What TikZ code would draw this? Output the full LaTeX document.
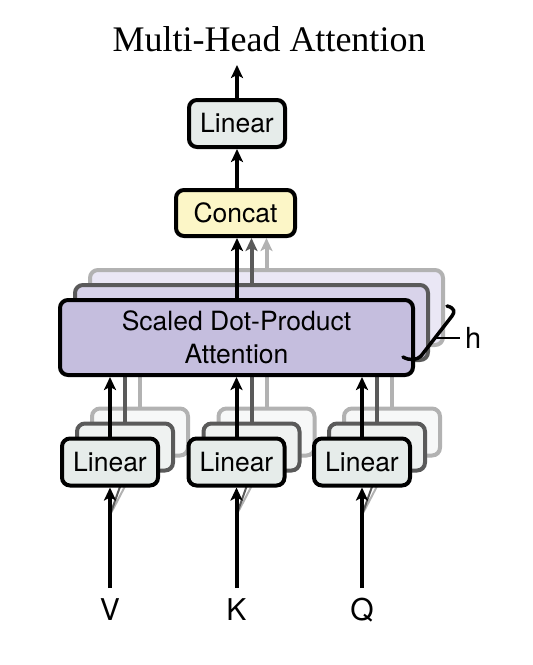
\documentclass[tikz,border=0pt]{standalone}
\usepackage{fontspec}
\setmainfont{Liberation Serif}
\newfontfamily\hv{TeX Gyre Heros}
\usetikzlibrary{arrows.meta,shadows}
\definecolor{linA}{RGB}{230,236,234}
\definecolor{linB}{RGB}{239,242,241}
\definecolor{linC}{RGB}{247,248,248}
\definecolor{catA}{RGB}{252,246,199}
\definecolor{sdpA}{RGB}{197,190,222}
\definecolor{sdpB}{RGB}{216,211,234}
\definecolor{sdpC}{RGB}{234,231,245}
\definecolor{midgray}{RGB}{90,90,90}
\definecolor{backgray}{RGB}{178,178,178}
\pgfdeclarelayer{lz}
\pgfdeclarelayer{ly}
\pgfdeclarelayer{lx}
\pgfdeclarelayer{lw}
\pgfsetlayers{lz,ly,lx,lw,main}
\begin{document}
\begin{tikzpicture}[x=1pt,y=-1pt,
  box/.style={rounded corners=8pt, line width=4pt, inner sep=0pt, align=center,
              font=\hv\fontsize{26.5}{33}\selectfont,
              drop shadow={shadow xshift=1.5pt, shadow yshift=-1.5pt, opacity=0.25}},
  frontbox/.style={box, draw=black},
  midbox/.style={box, draw=midgray},
  backbox/.style={box, draw=backgray},
  linsize/.style={minimum width=96pt, minimum height=47pt},
  sdpsize/.style={minimum width=353pt, minimum height=75pt},
  arr/.style={line width=4pt, -{Stealth[length=13pt,width=12pt,inset=3pt]}},
  midline/.style={line width=4pt, draw=midgray},
  backline/.style={line width=4pt, draw=backgray},
  midarr/.style={arr, draw=midgray, fill=midgray},
  backarr/.style={arr, draw=backgray, fill=backgray},
  thinmid/.style={line width=2pt, draw=midgray},
  thinback/.style={line width=2pt, draw=backgray},
  lab/.style={font=\hv\fontsize{30}{36}\selectfont, anchor=base, inner sep=0pt,
              outer sep=10pt, text height=22pt, text depth=0pt}
]
\useasboundingbox (0,0) rectangle (533,665);

% title
\node[font=\fontsize{36}{40}\selectfont, anchor=base, inner sep=0pt] (title) at (269,51) {Multi-Head Attention};

% ---------- Scaled Dot-Product Attention stack ----------
\begin{pgfonlayer}{lz}
\node[backbox, fill=sdpC, sdpsize] (s3) at (266.5,307.5) {};
\end{pgfonlayer}
\begin{pgfonlayer}{lx}
\node[midbox, fill=sdpB, sdpsize] (s2) at (251.5,322.5) {};
\end{pgfonlayer}
\node[frontbox, fill=sdpA, sdpsize] (s1) at (236.5,337.5) {Scaled Dot-Product\\Attention};

% ---------- Concat and output Linear ----------
\node[frontbox, fill=catA, minimum width=119pt, minimum height=46pt] (concat) at (235.5,213) {Concat};
\node[frontbox, fill=linA, linsize] (lout) at (237,123.5) {Linear};
\coordinate (out) at (237,65);

\begin{pgfonlayer}{ly}
\draw[backarr] (s3.north) -- (s3.north |- concat.south);
\end{pgfonlayer}
\begin{pgfonlayer}{lw}
\draw[midarr] (s2.north) -- (s2.north |- concat.south);
\end{pgfonlayer}
\draw[arr] (s1.north -| 237,0) -- (concat.south -| 237,0);
\draw[arr] (concat.north -| 237,0) -- (lout.south);
\draw[arr] (lout.north) -- (out);

% ---------- input Linear stacks ----------
% column V
\begin{pgfonlayer}{lz}
\node[backbox, fill=linC, linsize] (va3) at (140,432) {};
\end{pgfonlayer}
\begin{pgfonlayer}{lx}
\node[midbox, fill=linB, linsize] (va2) at (125,447) {};
\end{pgfonlayer}
\node[frontbox, fill=linA, linsize] (va1) at (110,462) {Linear};
% column K
\begin{pgfonlayer}{lz}
\node[backbox, fill=linC, linsize] (ka3) at (266.5,432) {};
\end{pgfonlayer}
\begin{pgfonlayer}{lx}
\node[midbox, fill=linB, linsize] (ka2) at (251.5,447) {};
\end{pgfonlayer}
\node[frontbox, fill=linA, linsize] (ka1) at (236.5,462) {Linear};
% column Q
\begin{pgfonlayer}{lz}
\node[backbox, fill=linC, linsize] (qa3) at (392,432) {};
\end{pgfonlayer}
\begin{pgfonlayer}{lx}
\node[midbox, fill=linB, linsize] (qa2) at (377,447) {};
\end{pgfonlayer}
\node[frontbox, fill=linA, linsize] (qa1) at (362,462) {Linear};

% connections from the Linear layers to the attention layers
\begin{pgfonlayer}{ly}
\draw[backline] (va3.north) -- (va3.north |- s3.south);
\draw[backline] (ka3.north) -- (ka3.north |- s3.south);
\draw[backline] (qa3.north) -- (qa3.north |- s3.south);
\end{pgfonlayer}
\begin{pgfonlayer}{lw}
\draw[midline] (va2.north) -- (va2.north |- s2.south);
\draw[midline] (ka2.north) -- (ka2.north |- s2.south);
\draw[midline] (qa2.north) -- (qa2.north |- s2.south);
\end{pgfonlayer}
\draw[arr] (va1.north) -- (va1.north |- s1.south);
\draw[arr] (ka1.north) -- (ka1.north |- s1.south);
\draw[arr] (qa1.north) -- (qa1.north |- s1.south);

% ---------- inputs ----------
\node[lab] (V) at (110,620) {V};
\node[lab] (K) at (236.5,620) {K};
\node[lab] (Q) at (362,620) {Q};
\coordinate (vs) at (110,515);
\coordinate (ks) at (236.5,515);
\coordinate (qs) at (362,515);
\begin{pgfonlayer}{ly}
\draw[thinback] (vs) -- (va3.south);
\draw[thinback] (ks) -- (ka3.south);
\draw[thinback] (qs) -- (qa3.south);
\end{pgfonlayer}
\begin{pgfonlayer}{lw}
\draw[thinmid] (vs) -- (va2.south);
\draw[thinmid] (ks) -- (ka2.south);
\draw[thinmid] (qs) -- (qa2.south);
\end{pgfonlayer}
\draw[arr] (V.north) -- (va1.south);
\draw[arr] (K.north) -- (ka1.south);
\draw[arr] (Q.north) -- (qa1.south);

% ---------- brace and h ----------
\draw[line width=3.5pt, line cap=round, line join=round]
  (447,306) .. controls (455,308) and (455,312) .. (452,316) -- (421,356)
  .. controls (417,360) and (410,361) .. (403,357);
\coordinate (bm) at (435,338);
\node[font=\hv\fontsize{29}{34}\selectfont, anchor=west, inner sep=5pt] (h) at (460,338) {h};
\draw[line width=2.5pt] (bm) -- (h.west);
\end{tikzpicture}
\end{document}
